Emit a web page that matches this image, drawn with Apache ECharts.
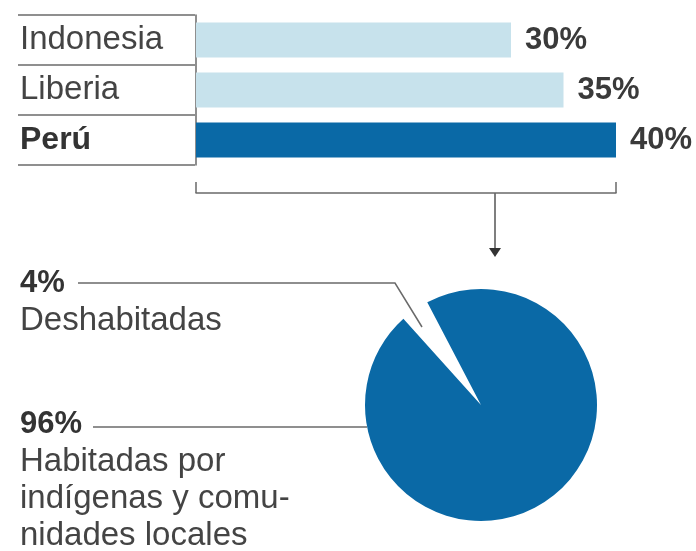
<!DOCTYPE html>
<html>
<head>
<meta charset="utf-8">
<script src="https://cdn.jsdelivr.net/npm/echarts@6/dist/echarts.min.js"></script>
<style>html,body{margin:0;padding:0;background:#fff}#c{width:696px;height:551px}</style>
</head>
<body>
<div id="c"></div>
<script>
// ---- data ----
const categories = ['Indonesia', 'Liberia', 'Perú'];
const shares = [30, 35, 40];
const highlighted = 'Perú';
const pieNames = ['Deshabitadas', 'Habitadas por\nindígenas y comu-\nnidades locales'];
const pieValues = [4, 96];
const axisMax = 40;

// ---- styles ----
const FONT = '"Liberation Sans", Arial, Helvetica, sans-serif';
const DARK = '#0a69a6';
const LIGHT = '#c7e2ec';
const TXT = '#444';
const TXTB = '#333';
const LINE = '#6a6a6a';

const chart = echarts.init(document.getElementById('c'));

const barData = categories.map((c, i) => ({
  value: shares[i],
  itemStyle: { color: c === highlighted ? DARK : LIGHT }
}));

const pieData = pieNames.map((n, i) => ({
  name: n,
  value: pieValues[i],
  itemStyle: { color: i === 0 ? 'rgba(255,255,255,0)' : DARK }
}));

chart.setOption({
  backgroundColor: '#fff',
  animation: false,
  textStyle: { fontFamily: FONT },
  grid: [
    { left: 196, width: 420, top: 15, height: 150 },
    { left: 18, width: 177, top: 15, height: 150 }
  ],
  xAxis: [
    {
      gridIndex: 0, type: 'value', min: 0, max: axisMax, interval: axisMax,
      position: 'bottom', offset: 28,
      axisLine: { show: true, lineStyle: { color: LINE, width: 1.5 } },
      axisTick: { show: true, inside: true, length: 11, lineStyle: { color: LINE, width: 1.5 } },
      axisLabel: { show: false },
      splitLine: { show: false }
    },
    {
      gridIndex: 1, type: 'value', min: 0, max: 1, show: false
    }
  ],
  yAxis: [
    {
      gridIndex: 0, type: 'category', data: categories, inverse: true,
      axisLine: { show: true, lineStyle: { color: LINE, width: 1.5 } },
      axisTick: { show: false },
      axisLabel: {
        align: 'left', margin: 176, fontSize: 33, color: TXT, fontFamily: FONT,
        formatter: v => v === highlighted ? '{b|' + v + '}' : v,
        rich: { b: { fontWeight: 'bold', fontSize: 32, color: TXTB, fontFamily: FONT } }
      },
      splitLine: { show: false }
    },
    {
      gridIndex: 1, type: 'category', data: categories, inverse: true,
      axisLine: { show: false }, axisTick: { show: false }, axisLabel: { show: false },
      splitLine: { show: true, lineStyle: { color: LINE, width: 1.5 } }
    }
  ],
  series: [
    {
      type: 'bar', xAxisIndex: 0, yAxisIndex: 0, data: barData, barWidth: 35,
      label: {
        show: true, position: 'right', distance: 14,
        formatter: p => p.value + '%',
        fontSize: 31, fontWeight: 'bold', color: '#3a3a3a', fontFamily: FONT
      }
    },
    {
      type: 'pie', center: [481, 405], radius: 116, startAngle: 132, clockwise: true,
      data: pieData,
      label: {
        show: true, position: 'outside', align: 'left', overflow: 'none', width: 330,
        formatter: p => '{p|' + p.value + '%}\n{t|' + p.name + '}',
        rich: {
          p: { fontSize: 31, fontWeight: 'bold', color: TXTB, lineHeight: 37, fontFamily: FONT },
          t: { fontSize: 33, color: TXT, lineHeight: 37, fontFamily: FONT }
        }
      },
      labelLine: { show: true, lineStyle: { color: LINE, width: 1.5 } },
      labelLayout: p => {
        if (p.dataIndex === 0) {
          return { x: 20, y: 265, align: 'left', verticalAlign: 'top',
            labelLinePoints: [[422, 327], [395, 283], [78, 283]] };
        }
        return { x: 20, y: 406, align: 'left', verticalAlign: 'top',
          labelLinePoints: [[367, 427], [367, 427], [93, 427]] };
      },
      emphasis: { disabled: true }
    }
  ],
  graphic: [
    { type: 'line', shape: { x1: 495, y1: 193, x2: 495, y2: 250 }, style: { stroke: '#555', lineWidth: 1.5 } },
    { type: 'polygon', shape: { points: [[489, 248], [501, 248], [495, 257]] }, style: { fill: '#333' } }
  ]
});
</script>
</body>
</html>
